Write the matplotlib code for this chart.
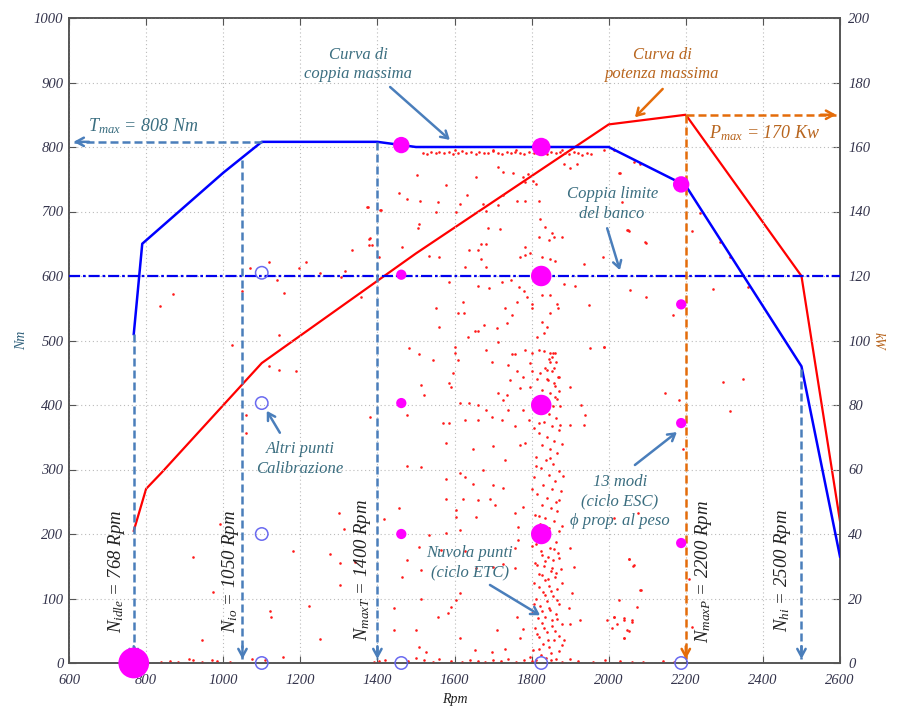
import matplotlib
matplotlib.use("Agg")
import matplotlib.pyplot as plt
import numpy as np

plt.rcParams['font.family'] = ['Liberation Serif', 'DejaVu Serif']
plt.rcParams['font.style'] = 'italic'
plt.rcParams['mathtext.fontset'] = 'custom'
plt.rcParams['mathtext.it'] = 'Liberation Serif:italic'
plt.rcParams['mathtext.rm'] = 'Liberation Serif:italic'

# ---------------- data ----------------
torque_rpm = [768, 790, 1000, 1100, 1400, 1500, 2000, 2200, 2500, 2600]
torque_nm = [510, 650, 760, 808, 808, 800, 800, 740, 460, 165]

power_rpm = [768, 800, 840, 1100, 1500, 2000, 2200, 2500, 2600]
power_kw = [41, 54, 59, 93, 127, 167, 170, 120, 44]

bench_limit_nm = 600

# ESC 13 modes (idle + A/B/C speeds x 4 loads), weights
esc_rpm = [768, 1462, 1462, 1462, 1462, 1825, 1825, 1825, 1825, 2188, 2188, 2188, 2188]
esc_nm = [0, 803, 602, 403, 200, 800, 600, 400, 200, 742, 556, 372, 186]
esc_weight = [0.15, 0.08, 0.05, 0.05, 0.05, 0.09, 0.10, 0.10, 0.10, 0.08, 0.05, 0.05, 0.05]

# other calibration points
cal_rpm = [1100, 1100, 1100, 1100, 1462, 1825, 2188]
cal_nm = [605, 403, 200, 0, 0, 0, 0]

# ETC cloud: near full load
etc_full_rpm = [1517, 1528, 1540, 1552, 1561, 1573, 1585, 1596, 1608, 1620, 1630, 1642, 1655, 1664,
                1676, 1688, 1700, 1712, 1722, 1735, 1746, 1758, 1770, 1781, 1793, 1805, 1816, 1828,
                1840, 1851, 1863, 1874, 1886, 1897, 1909, 1920, 1932, 1944, 1955, 1987, 2013, 1600,
                1700, 1760, 1880]
etc_full_nm = [791, 789, 792, 790, 793, 790, 792, 789, 791, 794, 790, 792, 789, 793,
               791, 790, 794, 791, 789, 792, 790, 793, 791, 789, 792, 790, 794, 791,
               789, 792, 790, 793, 791, 789, 792, 790, 788, 791, 789, 795, 795, 795,
               796, 795, 796]

# ETC cloud: scattered part load points
etc_part_rpm = [1504, 1578, 1655, 1457, 1478, 1511, 1557, 1633, 1613, 1553, 1507, 1505, 1604, 1674,
                1682, 1713, 1726, 1713, 1726, 1752, 1778, 1791, 1784, 1804, 1812, 1783, 1818, 1763,
                1883, 1918, 1900, 2029, 1822, 1835, 1853, 1844, 1857, 1818, 1879, 1935, 1985, 2096,
                2051, 1718, 1687, 1670, 1682, 1637, 1662, 1561, 1535, 1465, 1378, 1385, 1404, 1409,
                1374, 1770, 1783, 1796, 1783, 1826, 1848, 1861, 1626, 1670, 1682, 1587, 1661, 1689,
                1722, 1746, 1768, 1780, 1789, 1802, 1826, 1848, 1866, 1868, 1883, 1913, 1948, 1848,
                1826, 1839, 1831, 1813, 1800, 1761, 1731, 1748, 1735, 1710, 1676, 1661, 1652, 1622,
                1624, 1609, 1553, 1561, 1635, 1683, 1713, 1748, 1756, 1783, 1800, 1818, 1831, 1848,
                1853, 1861, 1848, 1857, 1870, 1857, 1870, 1861, 1839, 1839, 1822, 1796, 1778, 1800,
                1813, 1761, 1743, 1770, 1796, 1735, 1713, 1696, 1739, 1600, 1602, 1609, 1596, 1587,
                1483, 1507, 1544, 1591, 1513, 1522, 1613, 1637, 1661, 1683, 1725, 1739, 1778, 1874,
                1900, 1952, 1987, 1928, 1874, 1900, 1935, 1939, 1818, 1792, 1757, 1722, 1696, 1661,
                1626, 1587, 1570, 1478, 1382,
                1578, 1648, 1700, 1731, 1770, 1783, 1478, 1513, 1613, 1626, 1578, 1674, 1700, 1648,
                1578, 1622, 1661, 1691, 1726, 1704, 1757, 1778, 1457, 1417, 1604, 1604, 1657, 1613,
                1535, 1509, 1565, 1626, 1578, 1478, 1465, 1513, 1657, 1700, 1726, 1757, 1765, 1765,
                1757, 1613, 1604, 1591, 1583, 1557, 1513, 1443, 1443, 1500, 1509, 1526, 1613, 1652,
                1696, 1731, 1709, 1761, 1778, 1770, 1900, 1909, 1905, 1896, 1900, 1883, 1926, 2013,
                2022, 2039, 2048, 2039, 2061, 2053, 2066, 2083, 2074,
                1376, 1407, 1380, 1377, 1335, 1216, 1196, 1119, 1070, 1139, 1157, 1252, 1317, 1305,
                1357, 1048, 871, 837, 1023, 1146, 1119, 1146, 1189, 1059, 1059, 991, 922, 974,
                946, 1180, 1223, 1122, 1124, 1252, 1300, 1313, 1278, 1304, 1304, 1341,
                2065, 2082, 2026, 2034, 2047, 2052, 2095, 2215, 2237, 2288, 2314, 2361, 2271, 2056,
                2097, 2168, 1987, 2297, 2348, 2145, 2183, 2314, 2192, 2013, 2075, 2052, 2063, 2080,
                2209, 2026, 1996, 2013, 2039, 2060, 2009, 2052, 2039, 2215]
etc_part_nm = [756, 741, 754, 729, 719, 716, 715, 726, 712, 699, 681, 674, 699, 712,
               701, 710, 725, 769, 761, 759, 754, 758, 746, 748, 743, 716, 717, 717,
               774, 773, 767, 760, 689, 676, 666, 656, 660, 661, 660, 618, 630, 651,
               671, 673, 674, 650, 650, 640, 640, 630, 631, 645, 658, 648, 630, 703,
               707, 630, 632, 635, 645, 630, 627, 624, 614, 627, 614, 591, 585, 581,
               591, 594, 583, 576, 568, 557, 570, 570, 557, 550, 588, 585, 555, 542,
               529, 521, 511, 506, 550, 560, 550, 539, 527, 519, 524, 514, 514, 560,
               542, 542, 550, 521, 506, 485, 497, 479, 479, 485, 480, 485, 484, 480,
               475, 480, 467, 457, 444, 434, 421, 413, 454, 441, 449, 465, 444, 452,
               441, 453, 439, 426, 428, 416, 418, 466, 462, 490, 480, 470, 449, 434,
               488, 479, 470, 428, 431, 416, 403, 403, 400, 392, 407, 392, 392, 398,
               428, 488, 490, 400, 369, 369, 369, 385, 372, 377, 367, 377, 382, 377,
               377, 372, 372, 385, 382,
               341, 332, 336, 314, 338, 341, 306, 304, 294, 289, 286, 299, 276, 278,
               254, 254, 253, 255, 271, 245, 232, 242, 240, 224, 237, 227, 227, 206,
               198, 180, 175, 173, 201, 160, 134, 144, 147, 149, 154, 178, 191, 211,
               147, 108, 98, 87, 77, 72, 100, 85, 51, 51, 25, 17, 38, 20,
               17, 22, 51, 71, 53, 38, 178, 149, 108, 85, 61, 35, 66, 72,
               61, 66, 51, 38, 66, 162, 152, 113, 87,
               707, 702, 659, 648, 641, 622, 612, 622, 612, 594, 574, 605, 608, 599,
               568, 576, 572, 554, 493, 508, 460, 454, 453, 385, 356, 216, 164, 110,
               36, 174, 89, 81, 71, 37, 232, 207, 169, 155, 121, 157,
               776, 773, 760, 715, 672, 669, 653, 669, 698, 653, 629, 583, 580, 578,
               567, 539, 490, 436, 440, 419, 407, 391, 332, 225, 232, 162, 151, 113,
               130, 98, 67, 71, 69, 64, 54, 49, 38, 56]

# ETC cloud: dense band around 1800-1880 rpm
etc_band_rpm = [1812, 1825, 1838, 1850, 1862, 1803, 1846, 1830, 1858, 1818, 1870, 1840, 1808, 1852,
                1827, 1865, 1835, 1800, 1848, 1822, 1872, 1840, 1812, 1856, 1830, 1866, 1845, 1806,
                1835, 1860, 1820, 1850, 1876, 1832, 1810, 1855, 1842, 1868, 1825, 1848, 1802, 1862,
                1838, 1815, 1872, 1845, 1822, 1858, 1834, 1808, 1866, 1850, 1828, 1862, 1840, 1815,
                1875, 1852, 1830, 1860, 1806, 1845, 1870, 1825, 1855, 1838, 1812, 1865, 1848, 1828,
                1858, 1840, 1818, 1870, 1852, 1832, 1862, 1845, 1822, 1856, 1838, 1866, 1848, 1828,
                1860, 1842, 1868, 1852, 1834, 1862, 1846, 1856,
                1795, 1870, 1820, 1880, 1843, 1814, 1860, 1832, 1878, 1852, 1816, 1862, 1828, 1845,
                1805, 1866, 1836, 1850, 1818, 1878, 1842, 1826, 1864, 1853, 1815, 1836, 1870, 1828,
                1858, 1812, 1845, 1880, 1818, 1872, 1800, 1882, 1812, 1848, 1878, 1805]
etc_band_nm = [5, 12, 8, 15, 6, 20, 25, 30, 35, 40, 42, 48, 55, 58,
               62, 68, 72, 78, 82, 88, 92, 96, 100, 104, 110, 115, 120, 124,
               128, 133, 138, 142, 146, 150, 155, 160, 165, 170, 174, 178, 182, 188,
               192, 196, 205, 210, 215, 220, 225, 230, 235, 240, 245, 250, 256, 262,
               266, 270, 276, 282, 288, 292, 298, 302, 308, 314, 320, 326, 332, 338,
               344, 350, 356, 362, 368, 374, 380, 386, 392, 398, 404, 410, 418, 424,
               430, 438, 444, 452, 458, 466, 472, 480,
               10, 18, 22, 28, 36, 45, 50, 54, 60, 66, 70, 76, 80, 86,
               92, 98, 105, 112, 118, 124, 131, 136, 140, 148, 152, 158, 163, 168,
               176, 185, 198, 212, 228, 252, 270, 290, 305, 318, 340, 365]

# ETC cloud: motoring / zero-torque points
etc_zero_rpm = [839, 861, 883, 911, 922, 946, 972, 984, 1017, 1074, 1109, 1155, 1390, 1405,
                1420, 1480, 1500, 1520, 1545, 1560, 1590, 1620, 1640, 1660, 1680, 1700, 1720, 1740,
                1760, 1780, 1800, 1850, 1880, 1900, 1920, 1960, 1990, 2030, 2060, 2090, 2140, 2170]
etc_zero_nm = [2, 3, 2, 6, 4, 2, 5, 3, 2, 6, 4, 9, 2, 3,
               5, 3, 8, 4, 2, 6, 3, 2, 5, 3, 2, 4, 3, 6,
               2, 5, 3, 4, 2, 6, 3, 2, 4, 3, 2, 2, 3, 2]

x_ticks = [600, 800, 1000, 1200, 1400, 1600, 1800, 2000, 2200, 2400, 2600]
nm_ticks = [0, 100, 200, 300, 400, 500, 600, 700, 800, 900, 1000]
kw_ticks = [0, 20, 40, 60, 80, 100, 120, 140, 160, 180, 200]

n_idle, n_io, n_maxT, n_maxP, n_hi = 768, 1050, 1400, 2200, 2500
t_max, p_max = 808, 170

# ---------------- styles ----------------
ARROW_BLUE = '#4A7EBB'
ARROW_ORANGE = '#E46C0A'
TXT = '#3B6E80'
TXT_OR = '#B8651E'
TICK = '#34344C'

fig = plt.figure(figsize=(8.97, 7.11), dpi=100)
ax = fig.add_axes([69/897, 48/711, 771/897, 645/711])
ax2 = ax.twinx()
ax.set_zorder(ax2.get_zorder() + 1)
ax.patch.set_visible(False)

ax.set_xlim(600, 2600)
ax.set_ylim(0, 1000)
ax2.set_ylim(0, 200)
ax.set_xticks(x_ticks)
ax.set_yticks(nm_ticks)
ax2.set_yticks(kw_ticks)

for a in (ax, ax2):
    for s in a.spines.values():
        s.set_color('#555555')
        s.set_linewidth(1.2)
ax.tick_params(direction='in', length=5, top=True, right=False, labelsize=10.5,
               labelcolor=TICK, color='#555555')
ax.tick_params(axis='x', pad=8)
ax.tick_params(axis='y', pad=4)
ax2.tick_params(direction='in', length=5, labelsize=10.5, labelcolor=TICK, color='#555555', pad=6)
ax.grid(True, linestyle=(0, (1, 2.5)), color='#BBBBBB', linewidth=0.8)

ax.set_xlabel('Rpm', fontsize=10, color='#222222')
ax.xaxis.set_label_coords(0.5, -0.046)
ax.set_ylabel('Nm', fontsize=10, color='#2F5F7A', labelpad=4)
ax2.set_ylabel('kW', fontsize=10, color='#B8651E', rotation=270, labelpad=10)

# power curve (right axis)
ax2.plot(power_rpm, power_kw, color='#FF0000', lw=1.6, zorder=3)

# ETC cloud
for r, n in ((etc_full_rpm, etc_full_nm), (etc_part_rpm, etc_part_nm),
             (etc_band_rpm, etc_band_nm), (etc_zero_rpm, etc_zero_nm)):
    ax.scatter(r, n, s=3.5, color='#FF1A1A', linewidths=0, zorder=2, clip_on=False)

# torque curve and bench limit
ax.plot(torque_rpm, torque_nm, color='#0000FF', lw=1.8, zorder=4)
ax.axhline(bench_limit_nm, color='#0000EE', lw=1.6, ls=(0, (5, 1.3, 1.2, 1.3)), zorder=4)

# ESC modes (size proportional to weight)
ax.scatter(esc_rpm, esc_nm, s=(np.array(esc_weight) * 147.6) ** 2, color='#FF00FF',
           linewidths=0, zorder=6, clip_on=False)
# other calibration points
ax.scatter(cal_rpm, cal_nm, s=80, facecolors='none', edgecolors='#6A6AF0', linewidths=1.1,
           zorder=6, clip_on=False)


def dashed_arrow(x0, y0, x1, y1, color, hx, hy):
    ax.plot([x0, x1], [y0, y1], color=color, lw=1.8, ls=(0, (3.2, 1.6)), zorder=5)
    ax.annotate('', xy=(x1, y1), xytext=(x1 + hx, y1 + hy),
                arrowprops=dict(arrowstyle='->,head_length=0.55,head_width=0.3',
                                color=color, lw=1.8, shrinkA=0, shrinkB=0), zorder=5)


dashed_arrow(n_idle, 510, n_idle, 6, ARROW_BLUE, 0, 20)
dashed_arrow(n_io, 780, n_io, 6, ARROW_BLUE, 0, 20)
dashed_arrow(n_maxT, t_max, n_maxT, 6, ARROW_BLUE, 0, 20)
dashed_arrow(n_hi, 456, n_hi, 6, ARROW_BLUE, 0, 20)
dashed_arrow(n_maxP, 850, n_maxP, 6, ARROW_ORANGE, 0, 20)
dashed_arrow(1100, t_max, 612, t_max, ARROW_BLUE, 40, 0)
dashed_arrow(n_maxP, 850, 2590, 850, ARROW_ORANGE, -40, 0)

VFS = 13.5
ax.text(722, 142, r'$N_{idle}$ = ' + f'{n_idle} Rpm', rotation=90, ha='center', va='center',
        fontsize=VFS, color='#222222')
ax.text(1018, 142, r'$N_{io}$ = ' + f'{n_io} Rpm', rotation=90, ha='center', va='center',
        fontsize=VFS, color='#222222')
ax.text(1362, 144, r'$N_{maxT}$ = ' + f'{n_maxT} Rpm', rotation=90, ha='center', va='center',
        fontsize=VFS, color='#222222')
ax.text(2245, 141, r'$N_{maxP}$ = ' + f'{n_maxP} Rpm', rotation=90, ha='center', va='center',
        fontsize=VFS, color='#222222')
ax.text(2450, 144, r'$N_{hi}$ = ' + f'{n_hi} Rpm', rotation=90, ha='center', va='center',
        fontsize=VFS, color='#222222')

ax.text(793, 832, r'$T_{max}$ = ' + f'{t_max} Nm', ha='center', va='center', fontsize=13, color=TXT)
ax.text(2405, 822, r'$P_{max}$ = ' + f'{p_max} Kw', ha='center', va='center', fontsize=13,
        color=TXT_OR)

AFS = 12
ax.text(1350, 928, 'Curva di\ncoppia massima', ha='center', va='center', fontsize=AFS,
        color=TXT, linespacing=1.3)
ax.text(2140, 928, 'Curva di\npotenza massima', ha='center', va='center', fontsize=AFS,
        color=TXT_OR, linespacing=1.3)
ax.text(2009, 712, 'Coppia limite\ndel banco', ha='center', va='center', fontsize=AFS,
        color=TXT, linespacing=1.3)
ax.text(1199, 316, 'Altri punti\nCalibrazione', ha='center', va='center', fontsize=AFS,
        color=TXT, linespacing=1.3)
ax.text(2029, 250, '13 modi\n(ciclo ESC)\n\u03d5 prop. al peso', ha='center', va='center',
        fontsize=AFS, color=TXT, linespacing=1.3)
ax.text(1640, 155, 'Nuvola punti\n(ciclo ETC)', ha='center', va='center', fontsize=AFS,
        color=TXT, linespacing=1.3)

AP = dict(arrowstyle='->,head_length=0.5,head_width=0.3', lw=1.8, shrinkA=0, shrinkB=0)
ax.annotate('', xy=(1588, 811), xytext=(1433, 893), arrowprops=dict(AP, color=ARROW_BLUE), zorder=7)
ax.annotate('', xy=(2068, 846), xytext=(2140, 890), arrowprops=dict(AP, color=ARROW_ORANGE), zorder=7)
ax.annotate('', xy=(2029, 609), xytext=(1996, 674), arrowprops=dict(AP, color=ARROW_BLUE), zorder=7)
ax.annotate('', xy=(1113, 391), xytext=(1147, 357), arrowprops=dict(AP, color=ARROW_BLUE), zorder=7)
ax.annotate('', xy=(2177, 358), xytext=(2068, 307), arrowprops=dict(AP, color=ARROW_BLUE), zorder=7)
ax.annotate('', xy=(1822, 74), xytext=(1692, 121), arrowprops=dict(AP, color=ARROW_BLUE), zorder=7)

fig.savefig('out.png', dpi=100)
